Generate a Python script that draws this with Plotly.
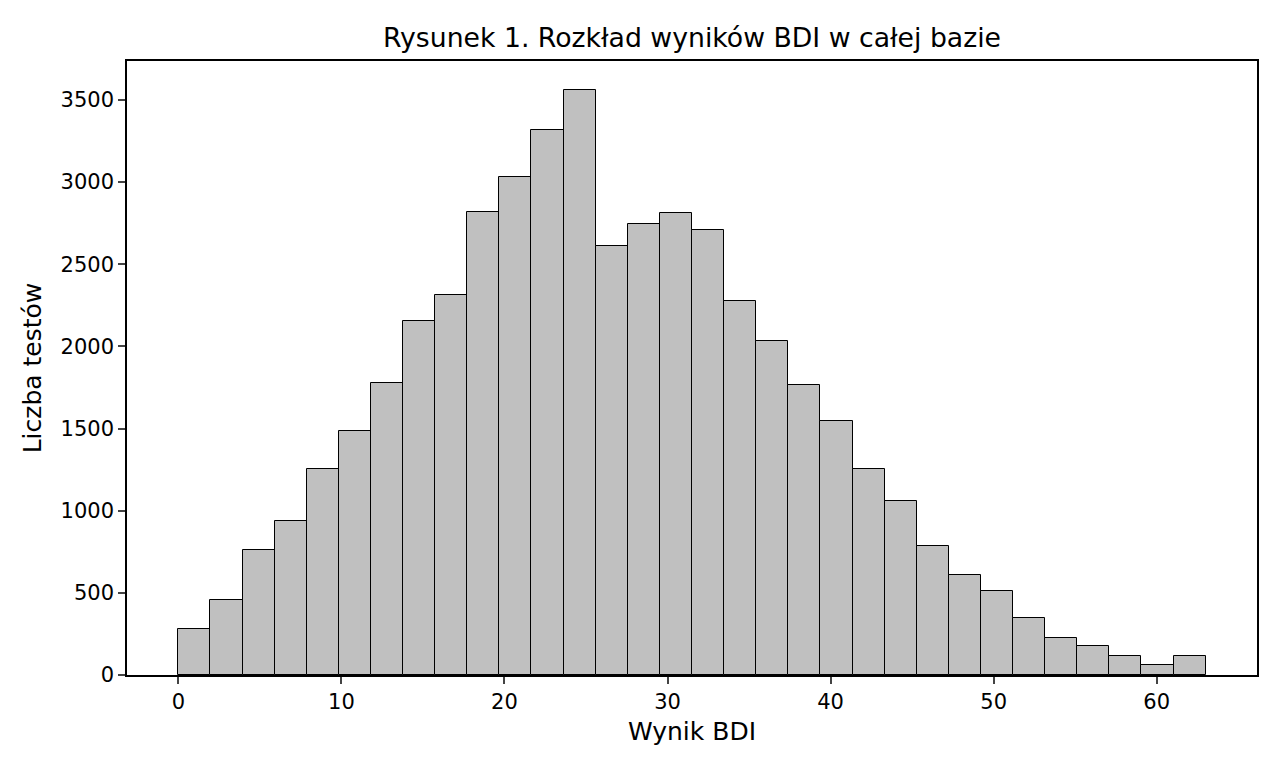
import numpy as np
import plotly.graph_objects as go

# histogram of BDI scores, 32 bins over 0..63
bin_start = 0
bin_end = 63
bin_count = 32
counts = [277, 455, 761, 936, 1251, 1483, 1780, 2154, 2313, 2818, 3033, 3315,
          3559, 2609, 2744, 2813, 2709, 2277, 2031, 1766, 1543, 1256, 1059, 787,
          611, 510, 344, 228, 175, 116, 59, 116]
x_ticks = [0, 10, 20, 30, 40, 50, 60]
y_ticks = [0, 500, 1000, 1500, 2000, 2500, 3000, 3500]

edges = np.linspace(bin_start, bin_end, bin_count + 1)
centers = (edges[:-1] + edges[1:]) / 2
width = edges[1] - edges[0]

fig = go.Figure(go.Bar(
    x=centers, y=counts, width=width,
    marker=dict(color="#c0c0c0", line=dict(color="black", width=1)),
))

# page body has an 8px margin, so the figure is 16px smaller than the window
W, H = 1264, 752
span = bin_end - bin_start
fig.update_layout(
    width=W, height=H,
    font=dict(family="DejaVu Sans", size=21, color="black"),
    paper_bgcolor="white", plot_bgcolor="white",
    margin=dict(l=119, r=15, t=53, b=85),
    bargap=0,
    showlegend=False,
    title=dict(text="Rysunek 1. Rozkład wyników BDI w całej bazie",
               xref="paper", x=0.5, xanchor="center",
               y=1 - 30 / H, yanchor="middle",
               font=dict(size=26.7)),
)
fig.update_xaxes(
    range=[bin_start - 0.05 * span, bin_end + 0.05 * span],
    tickvals=x_ticks, ticks="outside", ticklen=7, tickwidth=1.5,
    showline=True, linecolor="black", linewidth=1.5, mirror=True,
    showgrid=False, zeroline=False,
    title=dict(text="Wynik BDI", standoff=10),
)
fig.update_yaxes(
    range=[0, max(counts) * 1.05],
    tickvals=y_ticks, ticks="outside", ticklen=7, tickwidth=1.5,
    showline=True, linecolor="black", linewidth=1.5, mirror=True,
    showgrid=False, zeroline=False,
    title=dict(text="Liczba testów", standoff=12),
)

fig.write_html("out.html")
